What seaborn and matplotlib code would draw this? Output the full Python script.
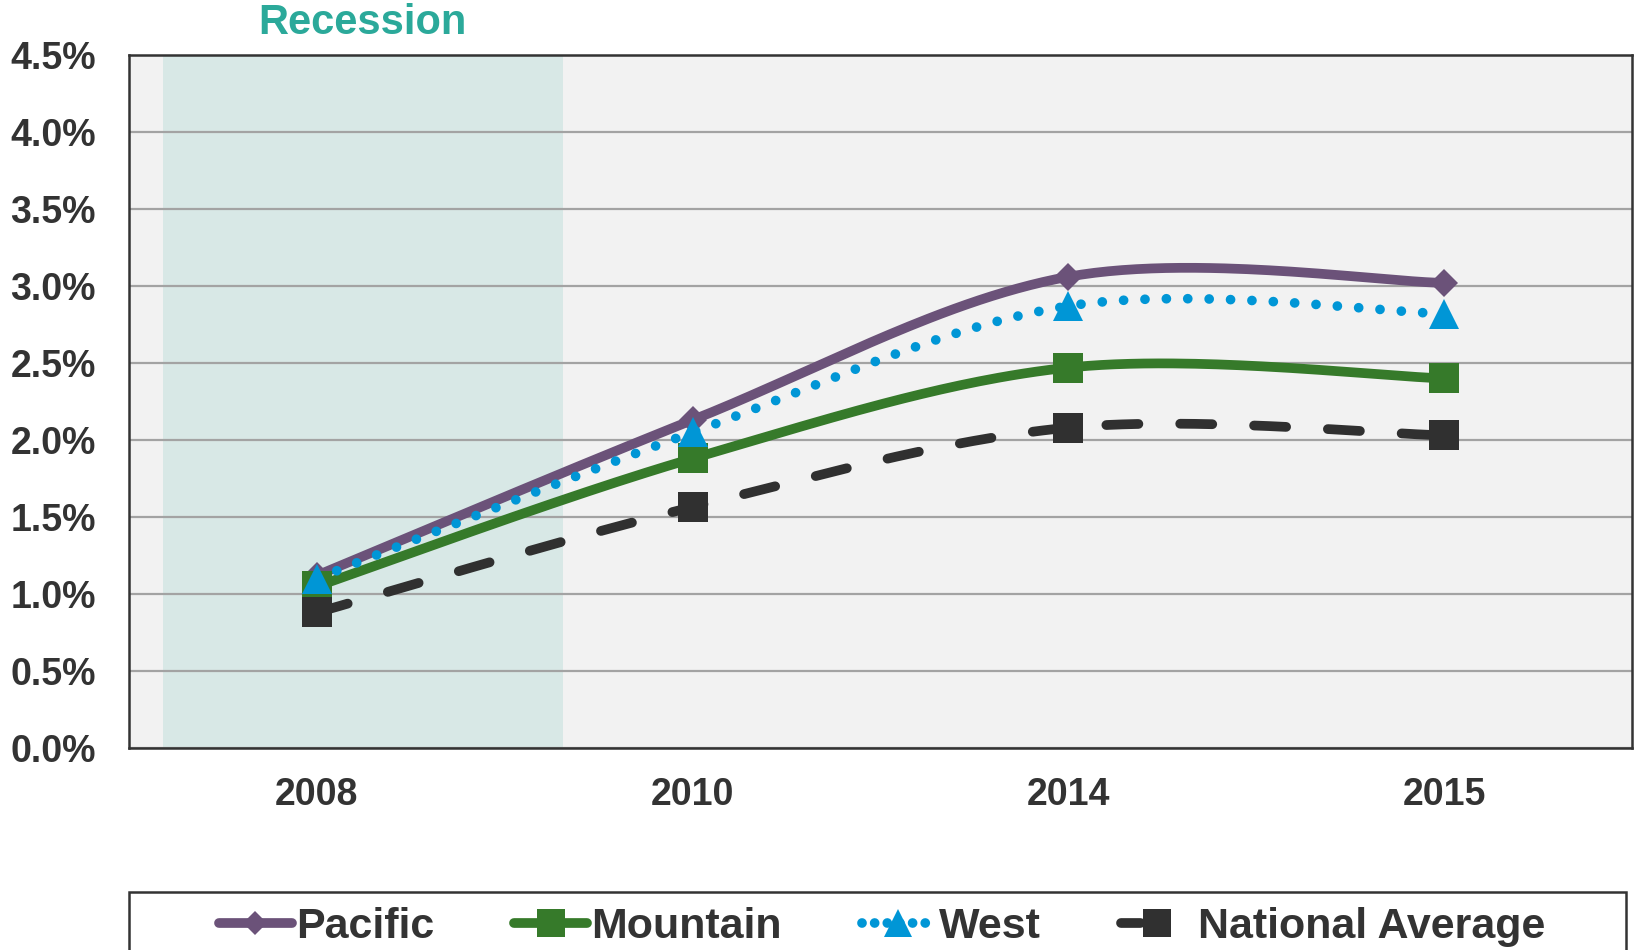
import numpy as np
import pandas as pd
import matplotlib
matplotlib.use("Agg")
import matplotlib.pyplot as plt
import seaborn as sns
from matplotlib.patches import Rectangle
from matplotlib.lines import Line2D

# ---------------- data ----------------
years = ["2008", "2010", "2014", "2015"]
pacific = [1.12, 2.13, 3.06, 3.02]
mountain = [1.05, 1.88, 2.47, 2.40]
west = [1.10, 2.05, 2.87, 2.82]
national = [0.88, 1.565, 2.08, 2.03]
series_names = ["Pacific", "Mountain", "West", "National Average"]
y_ticks = [0.0, 0.5, 1.0, 1.5, 2.0, 2.5, 3.0, 3.5, 4.0, 4.5]
recession_span = (-0.41, 0.655)
recession_label = "Recession"

# ---------------- style ----------------
sns.set_theme(style="white")
plt.rcParams["font.family"] = ["Liberation Sans", "DejaVu Sans"]
plt.rcParams["font.weight"] = "bold"

text_color = "#333333"
colors = {"Pacific": "#6B5279", "Mountain": "#367A2A",
          "West": "#0096D6", "National Average": "#303030"}

fig = plt.figure(figsize=(16.34, 9.5), dpi=100)
ax = fig.add_axes([129 / 1634, 1 - 748 / 950, (1632 - 129) / 1634, (748 - 55) / 950])
ax.set_facecolor("#F2F2F2")


def smooth(y, n=60):
    """Excel-style smoothed line: 2D cubic Bezier with Catmull-Rom control points."""
    x = np.arange(len(y), dtype=float)
    y = np.asarray(y, float)
    P = np.column_stack([x, y])
    Pe = np.vstack([P[0], P, P[-1]])
    out = []
    t = np.linspace(0, 1, n)[:, None]
    for i in range(len(y) - 1):
        p0, p1, p2, p3 = Pe[i], Pe[i + 1], Pe[i + 2], Pe[i + 3]
        c1 = p1 + (p2 - p0) / 6
        c2 = p2 - (p3 - p1) / 6
        seg = ((1 - t) ** 3) * p1 + 3 * ((1 - t) ** 2) * t * c1 \
            + 3 * (1 - t) * t ** 2 * c2 + t ** 3 * p2
        out.append(seg if i == 0 else seg[1:])
    out = np.vstack(out)
    return out[:, 0], out[:, 1]


ax.axvspan(*recession_span, color="#D8E8E6", zorder=0.3, lw=0)

styles = {
    "Pacific": dict(marker="D", ms=14, dash=None, ldash=None),
    "Mountain": dict(marker="s", ms=22, dash=None, ldash=None),
    "West": dict(marker="^", ms=22, dash=(0.001, 2.2), ldash=(0.001, 1.3)),
    "National Average": dict(marker="s", ms=22, dash=(3.3, 4.3), ldash=(2.0, 10)),
}
values = {"Pacific": pacific, "Mountain": mountain, "West": west,
          "National Average": national}

handles = []
for k, name in enumerate(series_names):
    st = styles[name]
    xs, ys = smooth(values[name])
    df = pd.DataFrame({"x": xs, "y": ys})
    sns.lineplot(data=df, x="x", y="y", ax=ax, color=colors[name], lw=7,
                 sort=False, estimator=None, zorder=3 + 2 * k)
    line = ax.lines[-1]
    if st["dash"] is not None:
        line.set_dashes(st["dash"])
        line.set_dash_capstyle("round")
    else:
        line.set_solid_capstyle("butt")
    pts = pd.DataFrame({"x": np.arange(len(years)), "y": values[name]})
    ax.plot(pts["x"], pts["y"], ls="none", marker=st["marker"], ms=st["ms"],
            color=colors[name], mec=colors[name], mew=0, zorder=4 + 2 * k)
    h = Line2D([0], [0], color=colors[name], lw=7, marker=st["marker"],
               ms=st["ms"] * 0.9, mew=0)
    if st["ldash"] is not None:
        h.set_dashes(st["ldash"])
        h.set_dash_capstyle("round")
    handles.append(h)

ax.set_xlim(-0.5, 3.5)
ax.set_ylim(0, 4.5)
ax.set_xticks(range(len(years)))
ax.set_xticklabels(years)
ax.set_xticks([-0.5, 0.5, 1.5, 2.5, 3.5], minor=True)
ax.set_yticks(y_ticks)
ax.set_yticklabels([f"{v:.1f}%" for v in y_ticks])
ax.set_xlabel("")
ax.set_ylabel("")

ax.tick_params(axis="x", which="major", length=0, pad=21, labelsize=27,
               labelcolor=text_color)
ax.tick_params(axis="x", which="minor", length=10, width=1.6, direction="out",
               color="#333333")
ax.tick_params(axis="y", which="major", length=0, pad=24, labelsize=27,
               labelcolor=text_color)
for lab in ax.get_xticklabels() + ax.get_yticklabels():
    lab.set_fontweight("bold")

ax.yaxis.grid(True, color="#A3A3A3", lw=1.6, zorder=1)
ax.xaxis.grid(False)
ax.set_axisbelow(True)
for side, sp in ax.spines.items():
    sp.set_visible(True)
    sp.set_color("#333333")
    sp.set_linewidth(1.8)
    sp.set_zorder(20)

fig.text(362 / 1634, 1 - 23 / 950, recession_label, color="#2BA99A",
         fontsize=30, fontweight="bold", ha="center", va="center")

# legend box
fig.patches.append(Rectangle((129 / 1634, -0.05), (1626 - 129) / 1634,
                             (0.05 + 1 - 892 / 950), transform=fig.transFigure,
                             fill=False, edgecolor="#333333", lw=1.8))
leg = fig.legend(handles, series_names, loc="center",
                 bbox_to_anchor=(882 / 1634, 1 - 927 / 950), ncol=4,
                 frameon=False, handlelength=1.7,
                 handletextpad=0.1, columnspacing=1.85, borderpad=0,
                 prop={"weight": "bold", "size": 31})
for t in leg.get_texts():
    t.set_color(text_color)

fig.savefig("out.png", dpi=100, facecolor="white")
